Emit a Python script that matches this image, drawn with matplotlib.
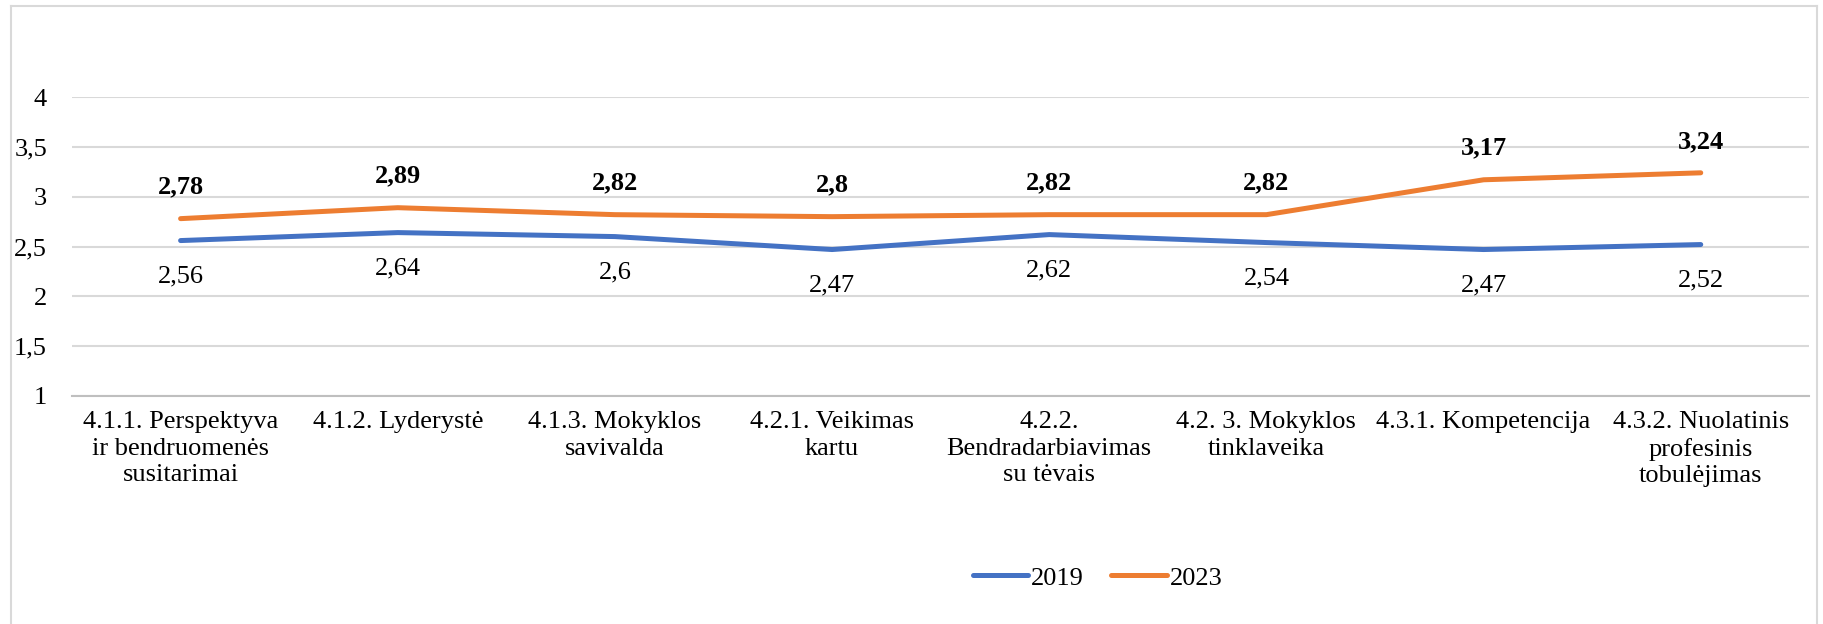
import matplotlib.pyplot as plt
from matplotlib.lines import Line2D

plt.rcParams['font.family'] = ['Liberation Serif', 'DejaVu Serif']

categories = ['4.1.1. Perspektyva\nir bendruomenės\nsusitarimai', '4.1.2. Lyderystė',
              '4.1.3. Mokyklos\nsavivalda', '4.2.1. Veikimas\nkartu',
              '4.2.2.\nBendradarbiavimas\nsu tėvais', '4.2. 3. Mokyklos\ntinklaveika',
              '4.3.1. Kompetencija', '4.3.2. Nuolatinis\nprofesinis\ntobulėjimas']
y2019 = [2.56, 2.64, 2.6, 2.47, 2.62, 2.54, 2.47, 2.52]
y2023 = [2.78, 2.89, 2.82, 2.8, 2.82, 2.82, 3.17, 3.24]
yticks = [1, 1.5, 2, 2.5, 3, 3.5, 4]

def fmt(v):
    return ('%g' % v).replace('.', ',')

fs = 19
fig = plt.figure(figsize=(18.23, 6.24), dpi=100)
ax = fig.add_axes([0.0395, 0.3654, 0.953, 0.479])

x = range(len(categories))
ax.plot(x, y2019, color='#4472C4', lw=3.6, solid_capstyle='round', solid_joinstyle='round', label='2019', zorder=3)
ax.plot(x, y2023, color='#ED7D31', lw=3.6, solid_capstyle='round', solid_joinstyle='round', label='2023', zorder=3)

for i, v in enumerate(y2023):
    ax.annotate(fmt(v), (i, v), xytext=(0, 18), textcoords='offset points',
                ha='center', va='baseline', fontsize=fs, fontweight='bold')
for i, v in enumerate(y2019):
    ax.annotate(fmt(v), (i, v), xytext=(0, -30), textcoords='offset points',
                ha='center', va='baseline', fontsize=fs)

ax.set_xlim(-0.5, len(categories) - 0.5)
ax.set_ylim(1, 4)
ax.set_yticks(yticks)
ax.set_yticklabels([fmt(t) for t in yticks], fontsize=fs)
ax.set_xticks(list(x))
ax.set_xticklabels(categories, fontsize=fs, linespacing=1.25)
ax.tick_params(length=0)
ax.tick_params(axis='y', pad=18)
ax.tick_params(axis='x', pad=11)
ax.grid(axis='y', color='#D9D9D9', lw=1.5)
ax.set_axisbelow(True)
for s in ['top', 'right', 'left']:
    ax.spines[s].set_visible(False)
ax.spines['bottom'].set_color('#BFBFBF')
ax.spines['bottom'].set_linewidth(1.5)

fig.legend(loc='center', bbox_to_anchor=(0.602, 0.074), ncol=2, frameon=False,
           fontsize=fs, handlelength=2.1, handletextpad=0.1, columnspacing=1.05)

# chart area border
for xs, ys in [([0.006, 0.006], [0, 0.99]), ([0.006, 0.9967], [0.99, 0.99]), ([0.9967, 0.9967], [0, 0.99])]:
    fig.add_artist(Line2D(xs, ys, color='#D9D9D9', lw=1.5, transform=fig.transFigure))

fig.savefig('out.png', dpi=100)
